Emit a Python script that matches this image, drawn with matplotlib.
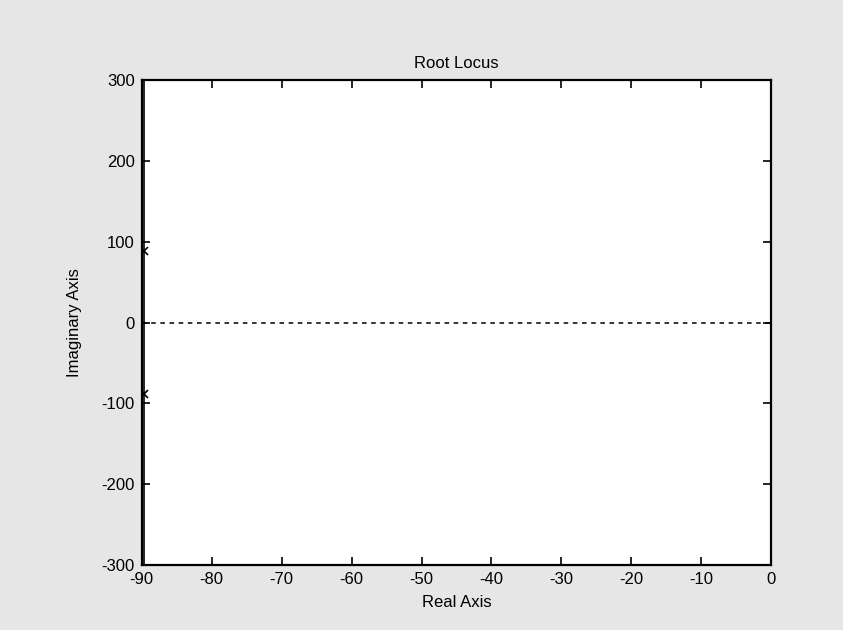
import numpy as np
import matplotlib.pyplot as plt

# poles of the open loop system
pole_re = [-89.7, -89.7]
pole_im = [88, -88]

# branch leaving the complex poles (vertical asymptote)
branch_re = [-89.7, -89.7]
branch_im = [-300, 300]

# dotted real axis line
real_re = [-90, 0]
real_im = [0, 0]

xticks = list(range(-90, 1, 10))
yticks = list(range(-300, 301, 100))

plt.rcParams['font.family'] = ['Liberation Sans', 'DejaVu Sans']
plt.rcParams['axes.unicode_minus'] = False

fig = plt.figure(figsize=(8.43, 6.3), dpi=100, facecolor='#e6e6e6')
ax = fig.add_axes([0.168, 0.103, 0.747, 0.770])
ax.set_facecolor('white')

ax.plot(real_re, real_im, color='black', linestyle=(0, (3, 3)), linewidth=1.1)
ax.plot(branch_re, branch_im, color='black', linewidth=1.2)
ax.plot(pole_re, pole_im, linestyle='none', marker='x', color='black',
        markersize=6, markeredgewidth=1.2)

ax.set_xlim(-90, 0)
ax.set_ylim(-300, 300)
ax.set_xticks(xticks)
ax.set_yticks(yticks)
ax.tick_params(direction='in', top=True, right=True, length=6, width=1.2,
               labelsize=12, pad=5)
for s in ax.spines.values():
    s.set_linewidth(1.6)

ax.set_title('Root Locus', fontsize=12, pad=9)
ax.set_xlabel('Real Axis', fontsize=12, labelpad=6)
ax.set_ylabel('Imaginary Axis', fontsize=12, labelpad=14)

fig.savefig('out.png', dpi=100, facecolor=fig.get_facecolor())
